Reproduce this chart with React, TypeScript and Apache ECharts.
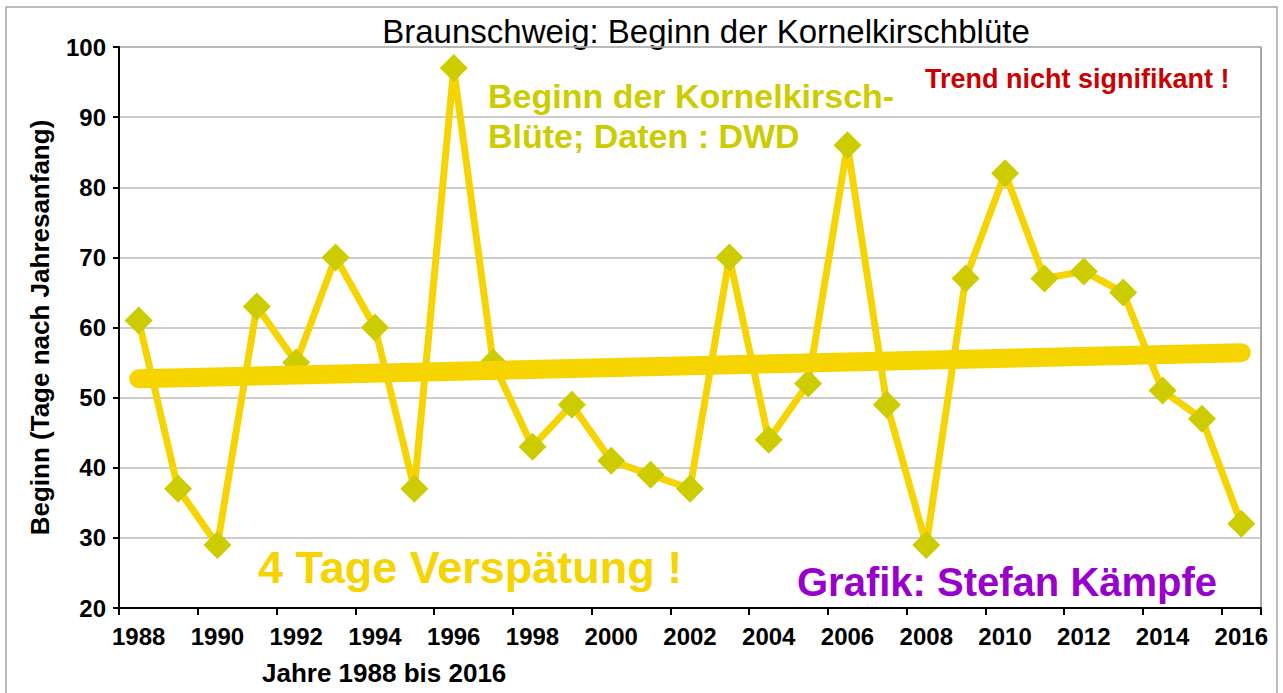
import React, { useEffect, useRef } from "react";
import * as echarts from "echarts";

const years = [
  "1988", "1989", "1990", "1991", "1992", "1993", "1994", "1995", "1996", "1997",
  "1998", "1999", "2000", "2001", "2002", "2003", "2004", "2005", "2006", "2007",
  "2008", "2009", "2010", "2011", "2012", "2013", "2014", "2015", "2016",
];
const bloomStart = [
  61, 37, 29, 63, 55, 70, 60, 37, 97, 55,
  43, 49, 41, 39, 37, 70, 44, 52, 86, 49,
  29, 67, 82, 67, 68, 65, 51, 47, 32,
];
const trendYears = ["1988", "2016"];
const trendValues = [52.7, 56.4];

const FONT = "'Liberation Sans', Arial, sans-serif";

export default function App() {
  const ref = useRef<HTMLDivElement>(null);
  useEffect(() => {
    if (!ref.current) return;
    const chart = echarts.init(ref.current, null, { renderer: "svg" });
    chart.setOption({
      animation: false,
      backgroundColor: "#ffffff",
      textStyle: { fontFamily: FONT },
      grid: {
        left: 119,
        right: 22,
        top: 47,
        bottom: 85,
        show: true,
        borderColor: "#8c8c8c",
        borderWidth: 1.5,
        backgroundColor: "transparent",
      },
      xAxis: {
        type: "category",
        data: years,
        boundaryGap: true,
        axisLine: { lineStyle: { color: "#000", width: 2 } },
        axisTick: { show: true, interval: 1, length: 7, lineStyle: { color: "#000", width: 2 } },
        axisLabel: {
          interval: 1,
          color: "#000",
          fontSize: 24,
          fontWeight: "bold",
          fontFamily: FONT,
          margin: 16,
        },
        splitLine: { show: false },
      },
      yAxis: {
        type: "value",
        min: 20,
        max: 100,
        interval: 10,
        name: "Beginn (Tage nach Jahresanfang)",
        nameLocation: "middle",
        nameGap: 66,
        nameTextStyle: { color: "#000", fontSize: 26, fontWeight: "bold", fontFamily: FONT },
        axisLine: { show: true, lineStyle: { color: "#000", width: 2 } },
        axisTick: { show: true, length: 6, lineStyle: { color: "#000", width: 2 } },
        axisLabel: {
          color: "#000",
          fontSize: 24,
          fontWeight: "bold",
          fontFamily: FONT,
          margin: 13,
        },
        splitLine: { show: true, lineStyle: { color: "#bdbdbd", width: 1.5 } },
      },
      graphic: [
        {
          type: "rect",
          silent: true,
          shape: { x: 6, y: 7, width: 1271, height: 700 },
          style: { fill: "none", stroke: "#a6a6a6", lineWidth: 1.5 },
          z: -1,
        },
        {
          type: "text",
          x: 706,
          y: 31,
          style: {
            text: "Braunschweig: Beginn der Kornelkirschblüte",
            fontSize: 33,
            fontFamily: FONT,
            fill: "#000",
            textAlign: "center",
            textVerticalAlign: "middle",
          },
        },
        {
          type: "text",
          x: 488,
          y: 96,
          style: {
            text: "Beginn der Kornelkirsch-",
            fontSize: 34,
            fontWeight: "bold",
            fontFamily: FONT,
            fill: "#cccc00",
            textAlign: "left",
            textVerticalAlign: "middle",
          },
        },
        {
          type: "text",
          x: 488,
          y: 136,
          style: {
            text: "Blüte; Daten : DWD",
            fontSize: 34,
            fontWeight: "bold",
            fontFamily: FONT,
            fill: "#cccc00",
            textAlign: "left",
            textVerticalAlign: "middle",
          },
        },
        {
          type: "text",
          x: 925,
          y: 79,
          style: {
            text: "Trend nicht signifikant !",
            fontSize: 27,
            fontWeight: "bold",
            fontFamily: FONT,
            fill: "#cc0000",
            textAlign: "left",
            textVerticalAlign: "middle",
          },
        },
        {
          type: "text",
          x: 258,
          y: 567,
          style: {
            text: "4 Tage Verspätung !",
            fontSize: 45,
            fontWeight: "bold",
            fontFamily: FONT,
            fill: "#f5d400",
            textAlign: "left",
            textVerticalAlign: "middle",
          },
        },
        {
          type: "text",
          x: 797,
          y: 582,
          style: {
            text: "Grafik: Stefan Kämpfe",
            fontSize: 40,
            fontWeight: "bold",
            fontFamily: FONT,
            fill: "#9900cc",
            textAlign: "left",
            textVerticalAlign: "middle",
          },
        },
        {
          type: "text",
          x: 262,
          y: 673,
          style: {
            text: "Jahre 1988 bis 2016",
            fontSize: 26,
            fontWeight: "bold",
            fontFamily: FONT,
            fill: "#000",
            textAlign: "left",
            textVerticalAlign: "middle",
          },
        },
      ],
      series: [
        {
          name: "Beginn",
          type: "line",
          data: bloomStart,
          symbol: "diamond",
          symbolSize: 28,
          showAllSymbol: true,
          lineStyle: { color: "#f5d400", width: 7 },
          itemStyle: { color: "#cccc00" },
          z: 2,
        },
        {
          name: "Trend",
          type: "line",
          data: trendYears.map((y, i) => [y, trendValues[i]]),
          symbol: "none",
          lineStyle: { color: "#f5d400", width: 19, cap: "round" },
          z: 3,
        },
      ],
    });
    return () => chart.dispose();
  }, []);
  return (
    <div
      ref={ref}
      style={{ position: "absolute", left: 0, top: 0, width: 1283, height: 693 }}
    />
  );
}
